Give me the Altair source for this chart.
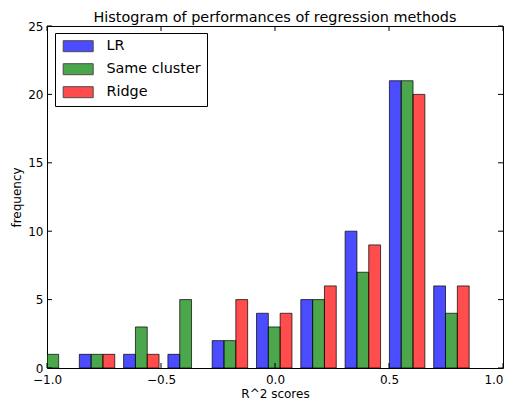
import altair as alt
import pandas as pd

series = ["LR", "Same cluster", "Ridge"]
lr_counts = [1, 1, 1, 1, 2, 4, 5, 10, 21, 6]
same_counts = [1, 1, 3, 5, 2, 3, 5, 7, 21, 4]
ridge_counts = [0, 1, 1, 0, 5, 4, 6, 9, 20, 6]
bin_start = -1.072
bin_width = 0.1943
x_ticks = [-1.0, -0.5, 0.0, 0.5, 1.0]
y_ticks = [0, 5, 10, 15, 20, 25]
colors = ["#0000ff", "#008000", "#ff0000"]

W, H = 456, 342
FONT = "DejaVu Sans"

rows = []
bar_w = 0.8 * bin_width / 3
for j, (name, counts) in enumerate(zip(series, [lr_counts, same_counts, ridge_counts])):
    for i, c in enumerate(counts):
        if c == 0:
            continue
        x0 = bin_start + i * bin_width + 0.1 * bin_width + j * bar_w
        rows.append({"series": name, "x0": x0, "x1": x0 + bar_w, "count": c, "base": 0})
df = pd.DataFrame(rows)

xscale = alt.Scale(domain=[-1, 1], nice=False, zero=False, padding=0)
yscale = alt.Scale(domain=[0, 25], nice=False, padding=0)

bars = alt.Chart(df).mark_bar(
    clip=True, fillOpacity=0.7, stroke="black", strokeOpacity=0.7, strokeWidth=1
).encode(
    x=alt.X("x0:Q", scale=xscale, title="R^2 scores",
            axis=alt.Axis(values=x_ticks, format=".1f", ticks=False, domain=False, grid=False,
                          labelPadding=6, labelFontSize=12, labelFont=FONT, labelColor="black",
                          labelAlign={"condition": {"test": "datum.value >= 1", "value": "right"},
                                      "value": "center"},
                          titleFont=FONT, titleFontSize=12, titleFontWeight="normal",
                          titleColor="black", titlePadding=3)),
    x2="x1:Q",
    y=alt.Y("count:Q", scale=yscale, title="frequency",
            axis=alt.Axis(values=y_ticks, ticks=False, domain=False, grid=False,
                          labelPadding=4, labelFontSize=12, labelFont=FONT, labelColor="black",
                          titleFont=FONT, titleFontSize=12, titleFontWeight="normal",
                          titleColor="black", titlePadding=4)),
    y2="base:Q",
    color=alt.Color("series:N", scale=alt.Scale(domain=series, range=colors),
                    sort=series,
                    legend=alt.Legend(title=None, orient="none", legendX=8, legendY=7,
                                      strokeColor="black", fillColor="white", padding=6,
                                      cornerRadius=0,
                                      symbolType="M-1,-1.1H5V1.1H-1Z", symbolSize=100,
                                      symbolStrokeColor="black", symbolStrokeWidth=1,
                                      symbolOpacity=0.7,
                                      labelFont=FONT, labelFontSize=14.4, labelColor="black",
                                      labelOffset=31, rowPadding=7)),
)

xt = pd.DataFrame({"v": x_ticks})
yt = pd.DataFrame({"v": y_ticks})
TL = 5
xtick_b = alt.Chart(xt).mark_rule(color="black").encode(
    x=alt.X("v:Q", scale=xscale), y=alt.value(H - TL), y2=alt.value(H))
xtick_t = alt.Chart(xt).mark_rule(color="black").encode(
    x=alt.X("v:Q", scale=xscale), y=alt.value(0), y2=alt.value(TL))
ytick_l = alt.Chart(yt).mark_rule(color="black").encode(
    y=alt.Y("v:Q", scale=yscale), x=alt.value(0), x2=alt.value(TL))
ytick_r = alt.Chart(yt).mark_rule(color="black").encode(
    y=alt.Y("v:Q", scale=yscale), x=alt.value(W - TL), x2=alt.value(W))

chart = alt.layer(bars, xtick_b, xtick_t, ytick_l, ytick_r).properties(
    width=W, height=H,
    title=alt.Title("Histogram of performances of regression methods",
                    font=FONT, fontSize=14.4, fontWeight="normal", color="black",
                    anchor="middle", offset=2, frame="group", dy=7),
    autosize=alt.AutoSizeParams(type="none"),
    padding={"left": 39, "top": 18, "right": 1, "bottom": 33},
).configure_view(stroke="black", strokeWidth=1)

chart.save("out.html", embed_options={"renderer": "svg", "actions": False})
